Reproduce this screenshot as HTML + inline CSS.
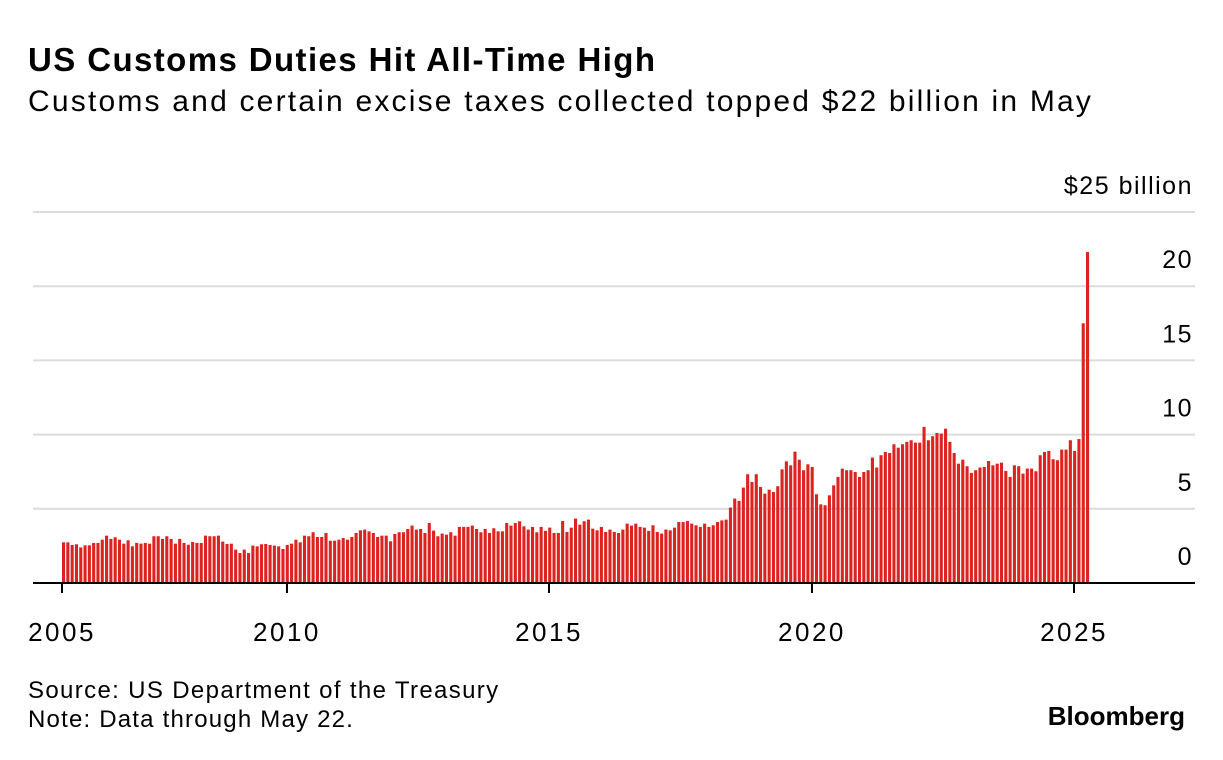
<!DOCTYPE html>
<html><head><meta charset="utf-8"><style>
body{margin:0;background:#fff;font-family:"Liberation Sans",Arial,sans-serif;}
#wrap{position:relative;width:1223px;height:760px;overflow:hidden;}
.t{position:absolute;white-space:nowrap;color:#000;}
</style></head><body>
<div id="wrap">
<div class="t" style="left:28px;top:41px;font-size:33px;font-weight:bold;letter-spacing:1.4px">US Customs Duties Hit All-Time High</div>
<div class="t" style="left:28px;top:85px;font-size:30px;letter-spacing:2.2px">Customs and certain excise taxes collected topped $22 billion in May</div>
<svg id="chart" width="1223" height="760" style="position:absolute;left:0;top:0"></svg>
<div class="t" style="left:28px;top:677px;font-size:24px;letter-spacing:1.35px">Source: US Department of the Treasury</div>
<div class="t" style="left:28px;top:706px;font-size:24px;letter-spacing:1.2px">Note: Data through May 22.</div>
<div class="t" style="right:38px;top:701px;font-size:26px;font-weight:bold;letter-spacing:0px">Bloomberg</div>
</div>
<script>
const values = [
2.74,2.74,2.56,2.61,2.40,2.54,2.54,2.70,2.70,2.92,3.19,2.97,3.08,2.92,2.65,2.88,2.47,2.70,2.65,2.70,2.65,3.15,3.15,2.97,3.15,2.97,2.65,2.97,2.70,2.58,2.76,2.70,2.70,3.19,3.15,3.15,3.19,2.79,2.63,2.65,2.25,2.02,2.25,2.02,2.52,2.47,2.61,2.63,2.56,2.52,2.47,
2.29,2.56,2.65,2.92,2.74,3.19,3.15,3.42,3.10,3.10,3.37,2.85,2.85,2.92,3.03,2.92,3.10,3.37,3.55,3.60,3.48,3.37,3.10,3.19,3.19,2.81,3.30,3.42,3.42,3.64,3.87,3.60,3.64,3.37,4.04,3.53,3.15,3.33,3.26,3.42,3.19,3.78,3.78,3.78,3.87,3.64,3.42,3.64,3.37,3.69,3.48,3.48,4.04,3.87,4.04,4.16,3.82,3.60,3.78,3.42,
3.78,3.51,3.73,3.37,3.37,4.18,3.44,3.73,4.34,3.93,4.16,4.27,3.66,3.55,3.78,3.44,3.60,3.44,3.37,3.60,4.00,3.87,4.00,3.78,3.73,3.51,3.89,3.44,3.33,3.60,3.55,3.73,4.11,4.11,4.18,4.00,3.89,3.78,4.00,3.78,3.89,4.11,4.22,4.27,5.08,5.69,5.53,6.43,7.33,6.81,7.33,6.47,6.02,6.29,6.13,6.52,7.66,8.20,7.93,8.85,8.31,7.60,8.00,7.82,
5.98,5.30,5.24,5.91,6.58,7.15,7.71,7.60,7.60,7.48,7.15,7.48,7.60,8.45,7.78,8.61,8.83,8.76,9.35,9.12,9.35,9.51,9.62,9.46,9.46,10.52,9.62,9.89,10.11,10.07,10.40,9.51,8.76,8.04,8.31,7.87,7.42,7.60,7.78,7.82,8.22,7.93,8.04,8.11,7.55,7.15,7.93,7.87,7.37,7.71,7.71,7.53,8.61,8.83,8.90,8.34,8.27,8.99,8.99,9.62,
8.9,9.7,17.5,22.3];
const yTicks = [0,5,10,15,20,25];
const yTickLabels = ["0","5","10","15","20","$25 billion"];
const xTickPos = [0, 0.2197, 0.4756, 0.7324, 0.9883];
const xTickLabels = ["2005","2010","2015","2020","2025"];

const svg = document.getElementById('chart');
const NS = 'http://www.w3.org/2000/svg';
const x0 = 62, x1 = 1086, yBase = 583, yPer = 14.84;
const step = (x1 - x0) / (values.length - 1);
const x = i => x0 + i * step;
const xFrac = f => x0 + f * (x1 - x0);
const y = v => yBase - v * yPer;
function mk(tag, attrs){const e=document.createElementNS(NS,tag);for(const k in attrs)e.setAttribute(k,attrs[k]);svg.appendChild(e);return e;}

yTicks.forEach((t,i)=>{
  if(t>0){
    const g=mk('line',{x1:33,x2:1195,y1:y(t),y2:y(t),stroke:'#dcdcdc','stroke-width':2});
    
    
  }
  const tx=mk('text',{x:1193,y:y(t)-18,'text-anchor':'end','font-size':25,'letter-spacing':1.5,'font-family':'Liberation Sans, Arial, sans-serif',fill:'#000'});
  tx.textContent=yTickLabels[i];
  
  
});
values.forEach((v,i)=>{
  const r=mk('rect',{x:x(i),y:y(v),width:3.1,height:v*yPer,fill:'#dc2320'});
  
  
});
const base=mk('line',{x1:33,x2:1195,y1:yBase,y2:yBase,stroke:'#000','stroke-width':2});


xTickPos.forEach((f,i)=>{
  const px=xFrac(f);
  const tk=mk('line',{x1:px,x2:px,y1:yBase,y2:yBase+10,stroke:'#000','stroke-width':2});
  
  
  const tx=mk('text',{x:px,y:641,'text-anchor':'middle','font-size':26,'letter-spacing':2.5,'font-family':'Liberation Sans, Arial, sans-serif',fill:'#000'});
  tx.textContent=xTickLabels[i];
  
  
});
</script>
</body></html>
